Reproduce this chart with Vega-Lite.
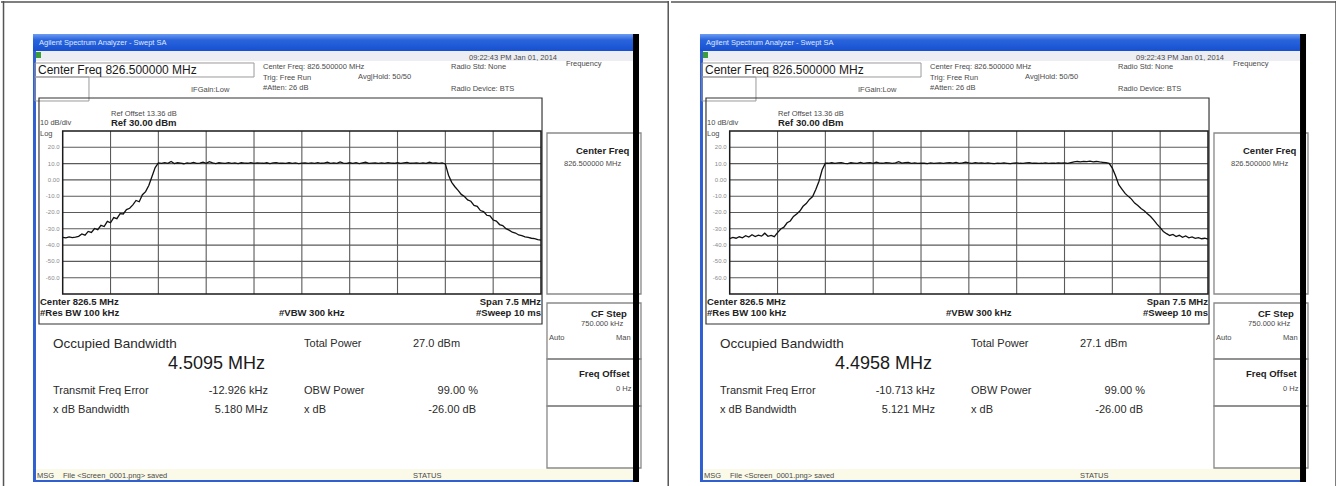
{
"$schema": "https://vega.github.io/schema/vega-lite/v6.json",
"padding": 0,
"spacing": 0,
"config": {"font": "Liberation Sans", "view": {"stroke": null}},
"resolve": {"scale": {"x": "independent", "y": "independent", "color": "independent", "stroke": "independent", "strokeWidth": "independent"}},
"datasets": {
"fills": [
{"part":"menu","f":822.300,"f2":831.693,"d":79.08,"d2":72.94},
{"part":"status","f":822.300,"f2":831.693,"d":-177.36,"d2":-184.11},
{"part":"border","f":822.284,"f2":822.331,"d":79.08,"d2":-185.34},
{"part":"border","f":822.300,"f2":831.693,"d":-184.11,"d2":-185.34},
{"part":"icon","f":822.331,"f2":822.410,"d":78.47,"d2":74.78}
],
"titlebar": [{"f":822.284,"f2":831.693,"d":89.51,"d2":79.08}],
"strip": [{"f":831.693,"f2":831.787,"d":89.51,"d2":-185.34}],
"boxes": [
{"part":"light","f":822.316,"f2":825.750,"d":71.72,"d2":63.13},
{"part":"light","f":822.316,"f2":823.162,"d":63.13,"d2":48.41},
{"part":"dark","f":822.378,"f2":830.266,"d":50.24,"d2":-88.41},
{"part":"grid","f":822.75,"f2":830.25,"d":30,"d2":-70},
{"part":"side","f":830.344,"f2":831.818,"d":28.77,"d2":-70.0},
{"part":"side","f":830.344,"f2":831.818,"d":-75.52,"d2":-109.88},
{"part":"side","f":830.344,"f2":831.818,"d":-109.88,"d2":-138.71},
{"part":"side","f":830.344,"f2":831.818,"d":-138.71,"d2":-176.75}
],
"vgrid": [
{"f":823.5,"d":30,"d2":-70},{"f":824.25,"d":30,"d2":-70},{"f":825.0,"d":30,"d2":-70},
{"f":825.75,"d":30,"d2":-70},{"f":826.5,"d":30,"d2":-70},{"f":827.25,"d":30,"d2":-70},
{"f":828.0,"d":30,"d2":-70},{"f":828.75,"d":30,"d2":-70},{"f":829.5,"d":30,"d2":-70}
],
"hgrid": [
{"d":20,"t":"20.0","f":822.75,"f2":830.25,"fl":822.70},
{"d":10,"t":"10.0","f":822.75,"f2":830.25,"fl":822.70},
{"d":0,"t":"0.00","f":822.75,"f2":830.25,"fl":822.70},
{"d":-10,"t":"-10.0","f":822.75,"f2":830.25,"fl":822.70},
{"d":-20,"t":"-20.0","f":822.75,"f2":830.25,"fl":822.70},
{"d":-30,"t":"-30.0","f":822.75,"f2":830.25,"fl":822.70},
{"d":-40,"t":"-40.0","f":822.75,"f2":830.25,"fl":822.70},
{"d":-50,"t":"-50.0","f":822.75,"f2":830.25,"fl":822.70},
{"d":-60,"t":"-60.0","f":822.75,"f2":830.25,"fl":822.70}
],
"title": [{"t":"Agilent Spectrum Analyzer - Swept SA","f":822.378,"d":83.99}],
"tiny": [
{"t":"IFGain:Low","f":824.762,"d":55.15},
{"t":"Center Freq: 826.500000 MHz","f":825.891,"d":69.26},
{"t":"Trig: Free Run","f":825.891,"d":62.52},
{"t":"Avg|Hold: 50/50","f":827.381,"d":63.13},
{"t":"#Atten: 26 dB","f":825.891,"d":56.38},
{"t":"Radio Std: None","f":828.839,"d":69.26},
{"t":"Radio Device: BTS","f":828.839,"d":55.77},
{"t":"09:22:43 PM Jan 01, 2014","f":829.121,"d":74.78},
{"t":"Ref Offset 13.36 dB","f":823.507,"d":40.43},
{"t":"10 dB/div","f":822.394,"d":34.91},
{"t":"Log","f":822.394,"d":28.16},
{"t":"Frequency","f":830.642,"d":71.10},
{"t":"826.500000 MHz","f":830.611,"d":9.75},
{"t":"750.000 kHz","f":830.878,"d":-88.41},
{"t":"Auto","f":830.376,"d":-96.99},
{"t":"Man","f":831.426,"d":-96.99},
{"t":"0 Hz","f":831.426,"d":-128.28},
{"t":"MSG","f":822.347,"d":-181.66},
{"t":"File <Screen_0001.png> saved","f":822.755,"d":-181.66},
{"t":"STATUS","f":828.243,"d":-181.66}
],
"bold9": [
{"t":"Ref 30.00 dBm","f":823.507,"d":34.91},
{"t":"Center 826.5 MHz","f":822.394,"d":-74.91},
{"t":"#Res BW 100 kHz","f":822.394,"d":-81.66},
{"t":"#VBW 300 kHz","f":826.142,"d":-81.66},
{"t":"Center Freq","f":830.799,"d":17.73},
{"t":"CF Step","f":831.034,"d":-82.27},
{"t":"Freq Offset","f":830.846,"d":-119.08}
],
"bold9r": [{"t":"Span 7.5 MHz","f":830.25,"d":-74.91},{"t":"#Sweep 10 ms","f":830.25,"d":-81.66}],
"main12": [{"t":"Center Freq 826.500000 MHz","f":822.363,"d":67.42}],
"statsl": [
{"t":"Transmit Freq Error","f":822.598,"d":-129.51},
{"t":"x dB Bandwidth","f":822.598,"d":-141.17},
{"t":"OBW Power","f":826.534,"d":-129.51},
{"t":"x dB","f":826.534,"d":-141.17},
{"t":"Total Power","f":826.534,"d":-100.67},
{"t":"27.0 dBm","f":828.243,"d":-100.67,"p":"L"},
{"t":"27.1 dBm","f":828.243,"d":-100.67,"p":"R"}
],
"statsr": [
{"t":"-12.926 kHz","f":825.969,"d":-129.51,"p":"L"},
{"t":"-10.713 kHz","f":825.969,"d":-129.51,"p":"R"},
{"t":"5.180 MHz","f":825.969,"d":-141.17,"p":"L"},
{"t":"5.121 MHz","f":825.969,"d":-141.17,"p":"R"},
{"t":"99.00 %","f":829.262,"d":-129.51},
{"t":"-26.00 dB","f":829.231,"d":-141.17}
],
"obwt": [{"t":"Occupied Bandwidth","f":822.598,"d":-100.67}],
"obwv": [{"t":"4.5095 MHz","f":824.401,"d":-112.95,"p":"L"},{"t":"4.4958 MHz","f":824.401,"d":-112.95,"p":"R"}],
"frameL": [
{"f":821.7825,"f2":832.2572,"d":109.14,"d2":109.14},
{"f":821.822,"f2":821.822,"d":109.755,"d2":-188.41},
{"f":832.245,"f2":832.245,"d":109.755,"d2":-188.41}
],
"frameR": [
{"f":821.8295,"f2":832.3042,"d":109.14,"d2":109.14},
{"f":832.257,"f2":832.257,"d":109.755,"d2":-188.41}
],
"traceL": [
{"f":822.75,"d":-35.2},{"f":822.80,"d":-35.6},{"f":822.85,"d":-35.0},{"f":822.90,"d":-35.4},{"f":822.95,"d":-35.1},
{"f":823.00,"d":-34.6},{"f":823.05,"d":-33.2},{"f":823.10,"d":-33.9},{"f":823.15,"d":-31.6},{"f":823.20,"d":-32.2},
{"f":823.25,"d":-29.8},{"f":823.30,"d":-30.5},{"f":823.35,"d":-27.9},{"f":823.40,"d":-28.6},{"f":823.45,"d":-25.4},
{"f":823.50,"d":-26.3},{"f":823.55,"d":-23.1},{"f":823.60,"d":-23.8},{"f":823.65,"d":-20.7},{"f":823.70,"d":-20.9},
{"f":823.75,"d":-18.2},{"f":823.80,"d":-17.4},{"f":823.85,"d":-15.3},{"f":823.90,"d":-12.6},{"f":823.95,"d":-13.4},
{"f":824.00,"d":-9.1},{"f":824.05,"d":-7.2},{"f":824.10,"d":-3.4},{"f":824.15,"d":2.1},{"f":824.20,"d":7.6},
{"f":824.25,"d":10.4},{"f":824.30,"d":10.1},{"f":824.35,"d":10.6},{"f":824.40,"d":10.2},{"f":824.45,"d":11.3},
{"f":824.50,"d":10.0},{"f":824.55,"d":10.5},{"f":824.60,"d":10.3},{"f":824.65,"d":9.9},{"f":824.70,"d":10.4},
{"f":824.75,"d":10.2},{"f":824.80,"d":10.7},{"f":824.85,"d":10.1},{"f":824.90,"d":10.3},{"f":824.95,"d":10.9},
{"f":825.00,"d":10.2},{"f":825.05,"d":11.2},{"f":825.10,"d":10.4},{"f":825.15,"d":10.0},{"f":825.20,"d":10.5},
{"f":825.25,"d":10.3},{"f":825.30,"d":10.1},{"f":825.35,"d":10.6},{"f":825.40,"d":10.2},{"f":825.45,"d":10.4},
{"f":825.50,"d":10.0},{"f":825.55,"d":10.5},{"f":825.60,"d":10.3},{"f":825.65,"d":10.2},{"f":825.70,"d":10.6},
{"f":825.75,"d":10.1},{"f":825.80,"d":10.4},{"f":825.85,"d":10.3},{"f":825.90,"d":10.2},{"f":825.95,"d":10.5},
{"f":826.00,"d":10.0},{"f":826.05,"d":10.4},{"f":826.10,"d":10.6},{"f":826.15,"d":10.2},{"f":826.20,"d":10.3},
{"f":826.25,"d":10.1},{"f":826.30,"d":10.5},{"f":826.35,"d":10.2},{"f":826.40,"d":10.4},{"f":826.45,"d":10.0},
{"f":826.50,"d":10.3},{"f":826.55,"d":10.5},{"f":826.60,"d":10.2},{"f":826.65,"d":10.4},{"f":826.70,"d":10.1},
{"f":826.75,"d":10.6},{"f":826.80,"d":10.2},{"f":826.85,"d":10.3},{"f":826.90,"d":10.9},{"f":826.95,"d":10.1},
{"f":827.00,"d":10.4},{"f":827.05,"d":10.2},{"f":827.10,"d":11.0},{"f":827.15,"d":10.3},{"f":827.20,"d":10.1},
{"f":827.25,"d":10.5},{"f":827.30,"d":10.2},{"f":827.35,"d":10.6},{"f":827.40,"d":10.0},{"f":827.45,"d":10.4},
{"f":827.50,"d":10.8},{"f":827.55,"d":10.1},{"f":827.60,"d":10.3},{"f":827.65,"d":10.5},{"f":827.70,"d":10.2},
{"f":827.75,"d":10.4},{"f":827.80,"d":10.1},{"f":827.85,"d":10.6},{"f":827.90,"d":10.3},{"f":827.95,"d":10.2},
{"f":828.00,"d":10.5},{"f":828.05,"d":10.1},{"f":828.10,"d":10.4},{"f":828.15,"d":10.7},{"f":828.20,"d":10.2},
{"f":828.25,"d":10.3},{"f":828.30,"d":10.5},{"f":828.35,"d":10.1},{"f":828.40,"d":10.4},{"f":828.45,"d":10.2},
{"f":828.50,"d":10.8},{"f":828.55,"d":10.3},{"f":828.60,"d":10.5},{"f":828.65,"d":10.2},{"f":828.70,"d":10.4},
{"f":828.75,"d":9.8},{"f":828.80,"d":2.9},{"f":828.85,"d":-1.5},{"f":828.90,"d":-4.2},{"f":828.95,"d":-6.4},
{"f":829.00,"d":-8.9},{"f":829.05,"d":-10.2},{"f":829.10,"d":-12.3},{"f":829.15,"d":-13.1},{"f":829.20,"d":-15.6},
{"f":829.25,"d":-16.2},{"f":829.30,"d":-18.8},{"f":829.35,"d":-19.4},{"f":829.40,"d":-21.7},{"f":829.45,"d":-22.1},
{"f":829.50,"d":-24.6},{"f":829.55,"d":-25.3},{"f":829.60,"d":-27.4},{"f":829.65,"d":-28.0},{"f":829.70,"d":-29.9},
{"f":829.75,"d":-30.8},{"f":829.80,"d":-32.1},{"f":829.85,"d":-32.6},{"f":829.90,"d":-33.8},{"f":829.95,"d":-34.2},
{"f":830.00,"d":-34.9},{"f":830.05,"d":-35.3},{"f":830.10,"d":-35.8},{"f":830.15,"d":-36.0},{"f":830.20,"d":-36.6},
{"f":830.25,"d":-37.0}
],
"traceR": [
{"f":822.75,"d":-36.0},{"f":822.80,"d":-35.3},{"f":822.85,"d":-35.8},{"f":822.90,"d":-34.9},{"f":822.95,"d":-35.5},
{"f":823.00,"d":-34.2},{"f":823.05,"d":-35.1},{"f":823.10,"d":-33.6},{"f":823.15,"d":-34.8},{"f":823.20,"d":-33.9},
{"f":823.25,"d":-34.5},{"f":823.30,"d":-32.7},{"f":823.35,"d":-34.6},{"f":823.40,"d":-34.0},{"f":823.45,"d":-34.8},
{"f":823.50,"d":-32.4},{"f":823.55,"d":-30.1},{"f":823.60,"d":-29.0},{"f":823.65,"d":-26.3},{"f":823.70,"d":-25.2},
{"f":823.75,"d":-22.4},{"f":823.80,"d":-20.9},{"f":823.85,"d":-19.1},{"f":823.90,"d":-16.2},{"f":823.95,"d":-14.5},
{"f":824.00,"d":-12.0},{"f":824.05,"d":-10.2},{"f":824.10,"d":-5.9},{"f":824.15,"d":-0.8},{"f":824.20,"d":6.2},
{"f":824.25,"d":10.3},{"f":824.30,"d":10.2},{"f":824.35,"d":10.5},{"f":824.40,"d":10.1},{"f":824.45,"d":10.4},
{"f":824.50,"d":10.6},{"f":824.55,"d":10.2},{"f":824.60,"d":10.0},{"f":824.65,"d":10.5},{"f":824.70,"d":10.3},
{"f":824.75,"d":10.1},{"f":824.80,"d":10.7},{"f":824.85,"d":10.2},{"f":824.90,"d":10.4},{"f":824.95,"d":10.6},
{"f":825.00,"d":10.1},{"f":825.05,"d":10.8},{"f":825.10,"d":10.3},{"f":825.15,"d":10.2},{"f":825.20,"d":10.6},
{"f":825.25,"d":10.4},{"f":825.30,"d":10.1},{"f":825.35,"d":10.5},{"f":825.40,"d":11.2},{"f":825.45,"d":10.3},
{"f":825.50,"d":10.6},{"f":825.55,"d":10.8},{"f":825.60,"d":10.2},{"f":825.65,"d":10.4},{"f":825.70,"d":10.1},
{"f":825.75,"d":10.3},{"f":825.80,"d":10.2},{"f":825.85,"d":10.0},{"f":825.90,"d":10.4},{"f":825.95,"d":10.1},
{"f":826.00,"d":10.3},{"f":826.05,"d":10.5},{"f":826.10,"d":10.2},{"f":826.15,"d":10.4},{"f":826.20,"d":10.6},
{"f":826.25,"d":10.3},{"f":826.30,"d":10.7},{"f":826.35,"d":10.2},{"f":826.40,"d":10.5},{"f":826.45,"d":10.9},
{"f":826.50,"d":10.4},{"f":826.55,"d":10.2},{"f":826.60,"d":10.6},{"f":826.65,"d":10.3},{"f":826.70,"d":10.5},
{"f":826.75,"d":10.1},{"f":826.80,"d":10.4},{"f":826.85,"d":10.2},{"f":826.90,"d":10.0},{"f":826.95,"d":10.3},
{"f":827.00,"d":10.1},{"f":827.05,"d":10.4},{"f":827.10,"d":10.2},{"f":827.15,"d":10.0},{"f":827.20,"d":10.3},
{"f":827.25,"d":10.5},{"f":827.30,"d":10.2},{"f":827.35,"d":10.1},{"f":827.40,"d":10.4},{"f":827.45,"d":10.6},
{"f":827.50,"d":10.2},{"f":827.55,"d":10.3},{"f":827.60,"d":10.1},{"f":827.65,"d":10.2},{"f":827.70,"d":10.4},
{"f":827.75,"d":10.1},{"f":827.80,"d":10.3},{"f":827.85,"d":10.2},{"f":827.90,"d":10.5},{"f":827.95,"d":10.3},
{"f":828.00,"d":10.4},{"f":828.05,"d":10.2},{"f":828.10,"d":10.6},{"f":828.15,"d":11.0},{"f":828.20,"d":11.3},
{"f":828.25,"d":11.1},{"f":828.30,"d":11.4},{"f":828.35,"d":11.2},{"f":828.40,"d":11.5},{"f":828.45,"d":11.1},
{"f":828.50,"d":11.3},{"f":828.55,"d":11.0},{"f":828.60,"d":10.8},{"f":828.65,"d":10.6},{"f":828.70,"d":10.1},
{"f":828.75,"d":7.2},{"f":828.80,"d":2.6},{"f":828.85,"d":-2.9},{"f":828.90,"d":-5.6},{"f":828.95,"d":-8.3},
{"f":829.00,"d":-10.1},{"f":829.05,"d":-11.8},{"f":829.10,"d":-14.2},{"f":829.15,"d":-15.7},{"f":829.20,"d":-17.6},
{"f":829.25,"d":-18.9},{"f":829.30,"d":-20.8},{"f":829.35,"d":-22.5},{"f":829.40,"d":-24.7},{"f":829.45,"d":-27.1},
{"f":829.50,"d":-29.3},{"f":829.55,"d":-31.6},{"f":829.60,"d":-33.0},{"f":829.65,"d":-34.1},{"f":829.70,"d":-33.5},
{"f":829.75,"d":-34.8},{"f":829.80,"d":-34.0},{"f":829.85,"d":-35.2},{"f":829.90,"d":-34.4},{"f":829.95,"d":-35.5},
{"f":830.00,"d":-35.0},{"f":830.05,"d":-35.9},{"f":830.10,"d":-35.4},{"f":830.15,"d":-36.1},{"f":830.20,"d":-35.8},
{"f":830.25,"d":-36.4}
]
},
"hconcat": [
{
"width": 668, "height": 486,
"encoding": {
"x": {"field": "f", "type": "quantitative", "scale": {"domain": [821.7825, 832.2572], "nice": false, "zero": false}, "axis": null},
"y": {"field": "d", "type": "quantitative", "scale": {"domain": [-188.41, 109.755], "nice": false, "zero": false}, "axis": null}
},
"layer": [
{"data": {"name": "fills"}, "mark": {"type": "rect"}, "encoding": {"x2": {"field": "f2"}, "y2": {"field": "d2"}, "color": {"field": "part", "type": "nominal", "scale": {"domain": ["menu","status","border","icon"], "range": ["#eceef3","#fbf9e8","#2f5fd0","#3c9c3c"]}, "legend": null}}},
{"data": {"name": "titlebar"}, "mark": {"type": "rect", "color": {"gradient": "linear", "x1": 0, "y1": 0, "x2": 0, "y2": 1, "stops": [{"offset": 0, "color": "#6d9cf2"}, {"offset": 0.35, "color": "#2a64dc"}, {"offset": 1, "color": "#1650d0"}]}}, "encoding": {"x2": {"field": "f2"}, "y2": {"field": "d2"}}},
{"data": {"name": "vgrid"}, "mark": {"type": "rule", "color": "#5a5a5a", "strokeWidth": 1.1}, "encoding": {"y2": {"field": "d2"}}},
{"data": {"name": "hgrid"}, "mark": {"type": "rule", "color": "#5a5a5a", "strokeWidth": 1.1}, "encoding": {"x2": {"field": "f2"}}},
{"data": {"name": "hgrid"}, "mark": {"type": "text", "align": "right", "baseline": "middle", "fontSize": 6, "color": "#8a8a8a"}, "encoding": {"x": {"field": "fl", "type": "quantitative"}, "text": {"field": "t"}}},
{"data": {"name": "boxes"}, "mark": {"type": "rect", "filled": false}, "encoding": {"x2": {"field": "f2"}, "y2": {"field": "d2"}, "stroke": {"field": "part", "type": "nominal", "scale": {"domain": ["light","dark","side","grid"], "range": ["#9a9a9a","#333333","#8a8a8a","#1a1a1a"]}, "legend": null}, "strokeWidth": {"field": "part", "type": "nominal", "scale": {"domain": ["light","dark","side","grid"], "range": [1, 1.5, 1, 1.5]}, "legend": null}}},
{"data": {"name": "traceL"}, "mark": {"type": "line", "color": "#111111", "strokeWidth": 1.3}},
{"data": {"name": "title"}, "mark": {"type": "text", "align": "left", "baseline": "middle", "fontSize": 7.5, "color": "#dfe8ff"}, "encoding": {"text": {"field": "t"}}},
{"data": {"name": "tiny"}, "mark": {"type": "text", "align": "left", "baseline": "middle", "fontSize": 7.5, "color": "#4a4a4a"}, "encoding": {"text": {"field": "t"}}},
{"data": {"name": "bold9"}, "mark": {"type": "text", "align": "left", "baseline": "middle", "fontSize": 9.5, "fontWeight": "bold", "color": "#222222"}, "encoding": {"text": {"field": "t"}}},
{"data": {"name": "bold9r"}, "mark": {"type": "text", "align": "right", "baseline": "middle", "fontSize": 9.5, "fontWeight": "bold", "color": "#222222"}, "encoding": {"text": {"field": "t"}}},
{"data": {"name": "main12"}, "mark": {"type": "text", "align": "left", "baseline": "middle", "fontSize": 12, "color": "#1a1a1a"}, "encoding": {"text": {"field": "t"}}},
{"data": {"name": "statsl"}, "transform": [{"filter": "datum.p != 'R'"}], "mark": {"type": "text", "align": "left", "baseline": "middle", "fontSize": 11, "color": "#2a2a2a"}, "encoding": {"text": {"field": "t"}}},
{"data": {"name": "statsr"}, "transform": [{"filter": "datum.p != 'R'"}], "mark": {"type": "text", "align": "right", "baseline": "middle", "fontSize": 11, "color": "#2a2a2a"}, "encoding": {"text": {"field": "t"}}},
{"data": {"name": "obwt"}, "mark": {"type": "text", "align": "left", "baseline": "middle", "fontSize": 13.5, "color": "#2a2a2a"}, "encoding": {"text": {"field": "t"}}},
{"data": {"name": "obwv"}, "transform": [{"filter": "datum.p != 'R'"}], "mark": {"type": "text", "align": "left", "baseline": "middle", "fontSize": 18, "color": "#1a1a1a"}, "encoding": {"text": {"field": "t"}}},
{"data": {"name": "strip"}, "mark": {"type": "rect", "color": "#000000"}, "encoding": {"x2": {"field": "f2"}, "y2": {"field": "d2"}}},
{"data": {"name": "frameL"}, "mark": {"type": "rule", "color": "#555555", "strokeWidth": 1.5}, "encoding": {"x2": {"field": "f2"}, "y2": {"field": "d2"}}}
]
},
{
"width": 668, "height": 486,
"encoding": {
"x": {"field": "f", "type": "quantitative", "scale": {"domain": [821.8295, 832.3042], "nice": false, "zero": false}, "axis": null},
"y": {"field": "d", "type": "quantitative", "scale": {"domain": [-188.41, 109.755], "nice": false, "zero": false}, "axis": null}
},
"layer": [
{"data": {"name": "fills"}, "mark": {"type": "rect"}, "encoding": {"x2": {"field": "f2"}, "y2": {"field": "d2"}, "color": {"field": "part", "type": "nominal", "scale": {"domain": ["menu","status","border","icon"], "range": ["#eceef3","#fbf9e8","#2f5fd0","#3c9c3c"]}, "legend": null}}},
{"data": {"name": "titlebar"}, "mark": {"type": "rect", "color": {"gradient": "linear", "x1": 0, "y1": 0, "x2": 0, "y2": 1, "stops": [{"offset": 0, "color": "#6d9cf2"}, {"offset": 0.35, "color": "#2a64dc"}, {"offset": 1, "color": "#1650d0"}]}}, "encoding": {"x2": {"field": "f2"}, "y2": {"field": "d2"}}},
{"data": {"name": "vgrid"}, "mark": {"type": "rule", "color": "#5a5a5a", "strokeWidth": 1.1}, "encoding": {"y2": {"field": "d2"}}},
{"data": {"name": "hgrid"}, "mark": {"type": "rule", "color": "#5a5a5a", "strokeWidth": 1.1}, "encoding": {"x2": {"field": "f2"}}},
{"data": {"name": "hgrid"}, "mark": {"type": "text", "align": "right", "baseline": "middle", "fontSize": 6, "color": "#8a8a8a"}, "encoding": {"x": {"field": "fl", "type": "quantitative"}, "text": {"field": "t"}}},
{"data": {"name": "boxes"}, "mark": {"type": "rect", "filled": false}, "encoding": {"x2": {"field": "f2"}, "y2": {"field": "d2"}, "stroke": {"field": "part", "type": "nominal", "scale": {"domain": ["light","dark","side","grid"], "range": ["#9a9a9a","#333333","#8a8a8a","#1a1a1a"]}, "legend": null}, "strokeWidth": {"field": "part", "type": "nominal", "scale": {"domain": ["light","dark","side","grid"], "range": [1, 1.5, 1, 1.5]}, "legend": null}}},
{"data": {"name": "traceR"}, "mark": {"type": "line", "color": "#111111", "strokeWidth": 1.3}},
{"data": {"name": "title"}, "mark": {"type": "text", "align": "left", "baseline": "middle", "fontSize": 7.5, "color": "#dfe8ff"}, "encoding": {"text": {"field": "t"}}},
{"data": {"name": "tiny"}, "mark": {"type": "text", "align": "left", "baseline": "middle", "fontSize": 7.5, "color": "#4a4a4a"}, "encoding": {"text": {"field": "t"}}},
{"data": {"name": "bold9"}, "mark": {"type": "text", "align": "left", "baseline": "middle", "fontSize": 9.5, "fontWeight": "bold", "color": "#222222"}, "encoding": {"text": {"field": "t"}}},
{"data": {"name": "bold9r"}, "mark": {"type": "text", "align": "right", "baseline": "middle", "fontSize": 9.5, "fontWeight": "bold", "color": "#222222"}, "encoding": {"text": {"field": "t"}}},
{"data": {"name": "main12"}, "mark": {"type": "text", "align": "left", "baseline": "middle", "fontSize": 12, "color": "#1a1a1a"}, "encoding": {"text": {"field": "t"}}},
{"data": {"name": "statsl"}, "transform": [{"filter": "datum.p != 'L'"}], "mark": {"type": "text", "align": "left", "baseline": "middle", "fontSize": 11, "color": "#2a2a2a"}, "encoding": {"text": {"field": "t"}}},
{"data": {"name": "statsr"}, "transform": [{"filter": "datum.p != 'L'"}], "mark": {"type": "text", "align": "right", "baseline": "middle", "fontSize": 11, "color": "#2a2a2a"}, "encoding": {"text": {"field": "t"}}},
{"data": {"name": "obwt"}, "mark": {"type": "text", "align": "left", "baseline": "middle", "fontSize": 13.5, "color": "#2a2a2a"}, "encoding": {"text": {"field": "t"}}},
{"data": {"name": "obwv"}, "transform": [{"filter": "datum.p != 'L'"}], "mark": {"type": "text", "align": "left", "baseline": "middle", "fontSize": 18, "color": "#1a1a1a"}, "encoding": {"text": {"field": "t"}}},
{"data": {"name": "strip"}, "mark": {"type": "rect", "color": "#000000"}, "encoding": {"x2": {"field": "f2"}, "y2": {"field": "d2"}}},
{"data": {"name": "frameR"}, "mark": {"type": "rule", "color": "#555555", "strokeWidth": 1.5}, "encoding": {"x2": {"field": "f2"}, "y2": {"field": "d2"}}}
]
}
]
}
